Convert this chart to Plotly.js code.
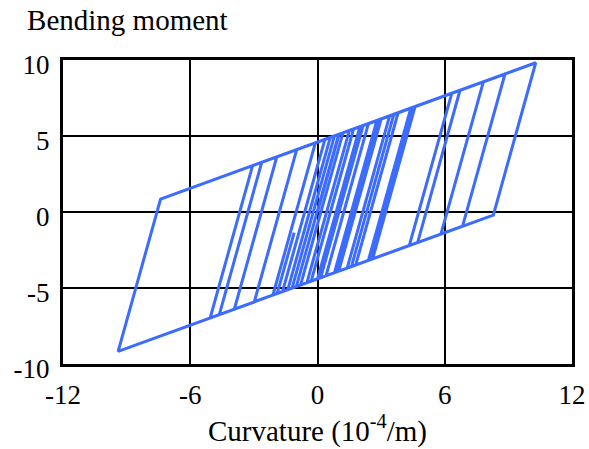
<!DOCTYPE html>
<html>
<head>
<meta charset="utf-8">
<script src="https://cdn.plot.ly/plotly-3.0.1.min.js"></script>
<style>html,body{margin:0;padding:0;background:#fff;}#chart{width:589px;height:449px;}</style>
</head>
<body>
<div id="chart"></div>
<script>
// Hysteresis path (curvature in 1e-4/m, bending moment in kN·m), vertices
const curvature = [0, 1.02, 1.2, -0.8, -1.65, 0.35, 1.7, -0.3, -1.4, 0.6,
  2.15, 0.15, -1.9, -1.1, -1.9, -2.1, -0.1, 2.4, 0.4, -1.2,
  0.8, 2.8, 0.8, -2.98, -0.98, 3.0, 1.0, -1.0, 1.0, 3.4,
  1.4, -3.92, -1.92, 3.8, 1.8, -0.5, 1.5, 4.4, 2.4, -4.63,
  -2.63, 4.6, 2.6, 0, 2.0, 6.33, 4.33, -5.06, -3.06, 6.72,
  4.72, 0.85, 2.85, 7.82, 5.82, 1.6, 3.6, 8.84, 6.84, 2.5,
  4.5, 10.29, 8.29, -9.4, -7.4, 0.5];
const moment = [0, 5.12, 5.21, -4.81, -5.24, 4.78, 5.46, -4.55, -5.11, 4.90,
  5.69, -4.32, -5.36, -1.36, -5.36, -5.46, 4.55, 5.82, -4.20, -5.01,
  5.01, 6.02, -3.99, -5.91, 4.10, 6.12, -3.89, -4.91, 5.11, 6.32,
  -3.69, -6.39, 3.63, 6.53, -3.49, -4.65, 5.36, 6.83, -3.18, -6.75,
  3.27, 6.93, -3.08, -4.4, 5.61, 7.81, -2.20, -6.97, 3.05, 8.01,
  -2.01, -3.97, 6.04, 8.56, -1.45, -3.59, 6.43, 9.08, -0.93, -3.13,
  6.88, 9.82, -0.20, -9.17, 0.85, 4.85];

const xTickVals = [-12, -6, 0, 6, 12];
const xTickText = ['-12', '-6', '0', '6', '12'];
const yTickVals = [-10, -5, 0, 5, 10];
const yTickText = ['-10', '-5', '0', '5', '10'];

const xTitle = 'Curvature (10<sup>-4</sup>/m)';
const yTitle = 'Bending moment';

const FONT = "'Liberation Serif', 'Times New Roman', serif";

const trace = {
  x: curvature,
  y: moment,
  type: 'scatter',
  mode: 'lines',
  line: {color: '#3b6bff', width: 3},
  hoverinfo: 'skip'
};

const layout = {
  width: 589,
  height: 449,
  margin: {l: 63, r: 17, t: 60, b: 85},
  paper_bgcolor: '#ffffff',
  plot_bgcolor: '#ffffff',
  showlegend: false,
  font: {family: FONT, color: '#000', size: 27},
  title: {
    text: yTitle,
    font: {family: FONT, size: 29, color: '#000'},
    xref: 'container', yref: 'container',
    x: 0.046, xanchor: 'left',
    y: 0.978, yanchor: 'top'
  },
  xaxis: {
    range: [-12, 12],
    tickmode: 'array', tickvals: xTickVals, ticktext: xTickText,
    ticks: '', showgrid: true, gridcolor: '#000', gridwidth: 2,
    zeroline: false, showline: true, linecolor: '#000', linewidth: 3, mirror: true,
    tickfont: {family: FONT, size: 27, color: '#000'},
    ticklabelstandoff: 5,
    title: {text: xTitle, font: {family: FONT, size: 29, color: '#000'}, standoff: 8},
    fixedrange: true
  },
  yaxis: {
    range: [-10, 10],
    tickmode: 'array', tickvals: yTickVals, ticktext: yTickText,
    ticks: '', showgrid: true, gridcolor: '#000', gridwidth: 2,
    zeroline: false, showline: true, linecolor: '#000', linewidth: 3, mirror: true,
    tickfont: {family: FONT, size: 27, color: '#000'},
    ticklabelstandoff: 5,
    ticklabelshift: 5,
    fixedrange: true
  }
};

Plotly.newPlot('chart', [trace], layout, {displayModeBar: false, staticPlot: true});
</script>
</body>
</html>
